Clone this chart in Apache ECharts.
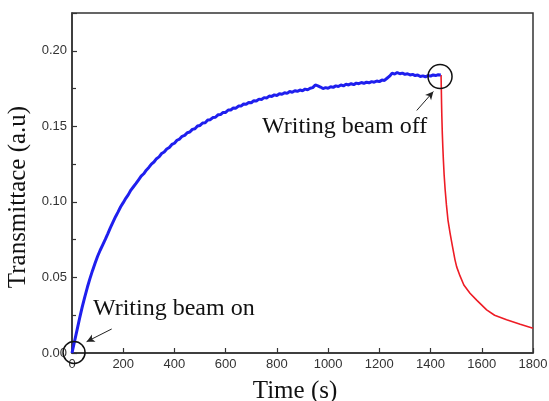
<!DOCTYPE html>
<html>
<head>
<meta charset="utf-8">
<script src="https://cdn.jsdelivr.net/npm/echarts@6/dist/echarts.min.js"></script>
<style>html,body{margin:0;padding:0;background:#fff}#c{width:549px;height:401px}</style>
</head>
<body>
<div id="c"></div>
<script>
// Writing beam on (blue) segment
const blueTime = [0,10,20,30,40,50,60,70,80,90,100,110,120,130,140,150,160,170,180,190,200,210,220,230,240,250,260,270,280,290,300,310,320,330,340,350,360,370,380,390,400,410,420,430,440,450,460,470,480,490,500,510,520,530,540,550,560,570,580,590,600,610,620,630,640,650,660,670,680,690,700,710,720,730,740,750,760,770,780,790,800,810,820,830,840,850,860,870,880,890,900,910,920,930,940,950,960,970,980,990,1000,1010,1020,1030,1040,1050,1060,1070,1080,1090,1100,1110,1120,1130,1140,1150,1160,1170,1180,1190,1200,1210,1220,1230,1240,1250,1260,1270,1280,1290,1300,1310,1320,1330,1340,1350,1360,1370,1380,1390,1400,1410,1420,1430,1440];
const blueValue = [0,0.0078,0.0155,0.0232,0.0305,0.0372,0.0435,0.0492,0.0545,0.0594,0.0640,0.0680,0.0716,0.0752,0.0790,0.0830,0.0866,0.0902,0.0934,0.0968,0.0995,0.1024,0.1048,0.1078,0.1100,0.1122,0.1146,0.1170,0.1186,0.1210,0.1228,0.1250,0.1264,0.1286,0.1298,0.1320,0.1330,0.1350,0.1360,0.1380,0.1388,0.1408,0.1416,0.1434,0.1440,0.1458,0.1462,0.1480,0.1484,0.1502,0.1506,0.1522,0.1524,0.1542,0.1544,0.1558,0.1560,0.1576,0.1578,0.1592,0.1592,0.1608,0.1608,0.1622,0.1620,0.1634,0.1634,0.1648,0.1646,0.1658,0.1656,0.1670,0.1668,0.1680,0.1678,0.1690,0.1688,0.1700,0.1698,0.1708,0.1704,0.1716,0.1712,0.1722,0.1718,0.1730,0.1726,0.1736,0.1732,0.1740,0.1736,0.1746,0.1742,0.1752,0.1756,0.1774,0.1768,0.1760,0.1750,0.1756,0.1752,0.1762,0.1758,0.1768,0.1764,0.1774,0.1768,0.1778,0.1774,0.1782,0.1776,0.1786,0.1782,0.1790,0.1784,0.1792,0.1788,0.1796,0.1792,0.1800,0.1796,0.1806,0.1804,0.1818,0.1832,0.1852,0.1846,0.1856,0.1848,0.1852,0.1844,0.1848,0.1840,0.1844,0.1836,0.1840,0.1830,0.1834,0.1828,0.1836,0.1832,0.1840,0.1836,0.1842,0.1840];
// Writing beam off (red) segment
const redTime = [1441,1442,1443,1444,1446,1448,1450,1453,1457,1462,1468,1476,1485,1495,1502,1515,1530,1554,1580,1619,1650,1697,1750,1800];
const redValue = [0.184,0.175,0.165,0.157,0.145,0.136,0.128,0.118,0.108,0.098,0.088,0.0795,0.071,0.062,0.057,0.051,0.045,0.0395,0.035,0.0285,0.025,0.022,0.019,0.0164];

const onCircle = [8, 0.0003];
const offCircle = [1437, 0.183];
const onArrow = [[155, 0.0159], [57, 0.0075]];
const offArrow = [[1346, 0.1605], [1411, 0.173]];
const onText = ['Writing beam on', 82, 0.0291];
const offText = ['Writing beam off', 742, 0.1497];

const zip = (a, b) => a.map((t, i) => [t, b[i]]);
const circleStyle = {color: 'rgba(0,0,0,0)', borderColor: '#111', borderWidth: 1.5};
const annoFont = {fontFamily: 'Liberation Serif', fontSize: 24, color: '#111'};

const chart = echarts.init(document.getElementById('c'), null, {renderer: 'canvas'});
chart.setOption({
  animation: false,
  backgroundColor: '#fff',
  grid: {left: 72, right: 16, top: 13, bottom: 48, show: true, borderColor: '#333', borderWidth: 1.5,
    containLabel: false, outerBoundsMode: 'none'},
  xAxis: {
    type: 'value', min: 0, max: 1800, interval: 200,
    name: 'Time (s)', nameLocation: 'middle', nameGap: 26,
    nameTextStyle: {fontFamily: 'Liberation Serif', fontSize: 25, color: '#111', padding: [0, 15, 0, 0]},
    axisLine: {show: true, lineStyle: {color: '#333', width: 1.5}},
    axisTick: {show: true, inside: true, length: 5, lineStyle: {color: '#333', width: 1.2}},
    axisLabel: {fontFamily: 'Liberation Sans', fontSize: 13, color: '#333', margin: 5, formatter: v => String(v)},
    splitLine: {show: false}
  },
  yAxis: {
    type: 'value', min: 0, max: 0.225, interval: 0.05,
    name: 'Transmittace (a.u)', nameLocation: 'middle', nameGap: 33,
    nameTextStyle: {fontFamily: 'Liberation Serif', fontSize: 25, color: '#111', padding: [0, 28, 0, 0]},
    axisLine: {show: true, lineStyle: {color: '#333', width: 1.5}},
    axisTick: {show: true, inside: true, length: 5, lineStyle: {color: '#333', width: 1.2}},
    minorTick: {show: true, splitNumber: 2, length: 4, lineStyle: {color: '#333', width: 1.2}},
    axisLabel: {fontFamily: 'Liberation Sans', fontSize: 13, color: '#333', margin: 5, showMaxLabel: false,
      formatter: v => v.toFixed(2)},
    splitLine: {show: false}
  },
  series: [
    {
      type: 'line', data: zip(blueTime, blueValue), showSymbol: false, symbol: 'none',
      lineStyle: {color: '#1f1fee', width: 3}, z: 3,
      markPoint: {
        silent: true, animation: false,
        data: [
          {coord: onCircle, symbol: 'circle', symbolSize: 22, itemStyle: circleStyle, label: {show: false}},
          {coord: offCircle, symbol: 'circle', symbolSize: 24, itemStyle: circleStyle, label: {show: false}},
          {coord: [onText[1], onText[2]], symbol: 'circle', symbolSize: 0,
            label: Object.assign({show: true, position: 'right', distance: 0, formatter: onText[0]}, annoFont)},
          {coord: [offText[1], offText[2]], symbol: 'circle', symbolSize: 0,
            label: Object.assign({show: true, position: 'right', distance: 0, formatter: offText[0]}, annoFont)}
        ]
      },
      markLine: {
        silent: true, animation: false, symbol: ['none', 'arrow'], symbolSize: [6, 8],
        lineStyle: {color: '#222', width: 1, type: 'solid'}, label: {show: false},
        data: [
          [{coord: onArrow[0]}, {coord: onArrow[1]}],
          [{coord: offArrow[0]}, {coord: offArrow[1]}]
        ]
      }
    },
    {
      type: 'line', data: zip(redTime, redValue), showSymbol: false, symbol: 'none',
      lineStyle: {color: '#ee1c25', width: 1.6}, z: 2
    }
  ]
});
</script>
</body>
</html>
